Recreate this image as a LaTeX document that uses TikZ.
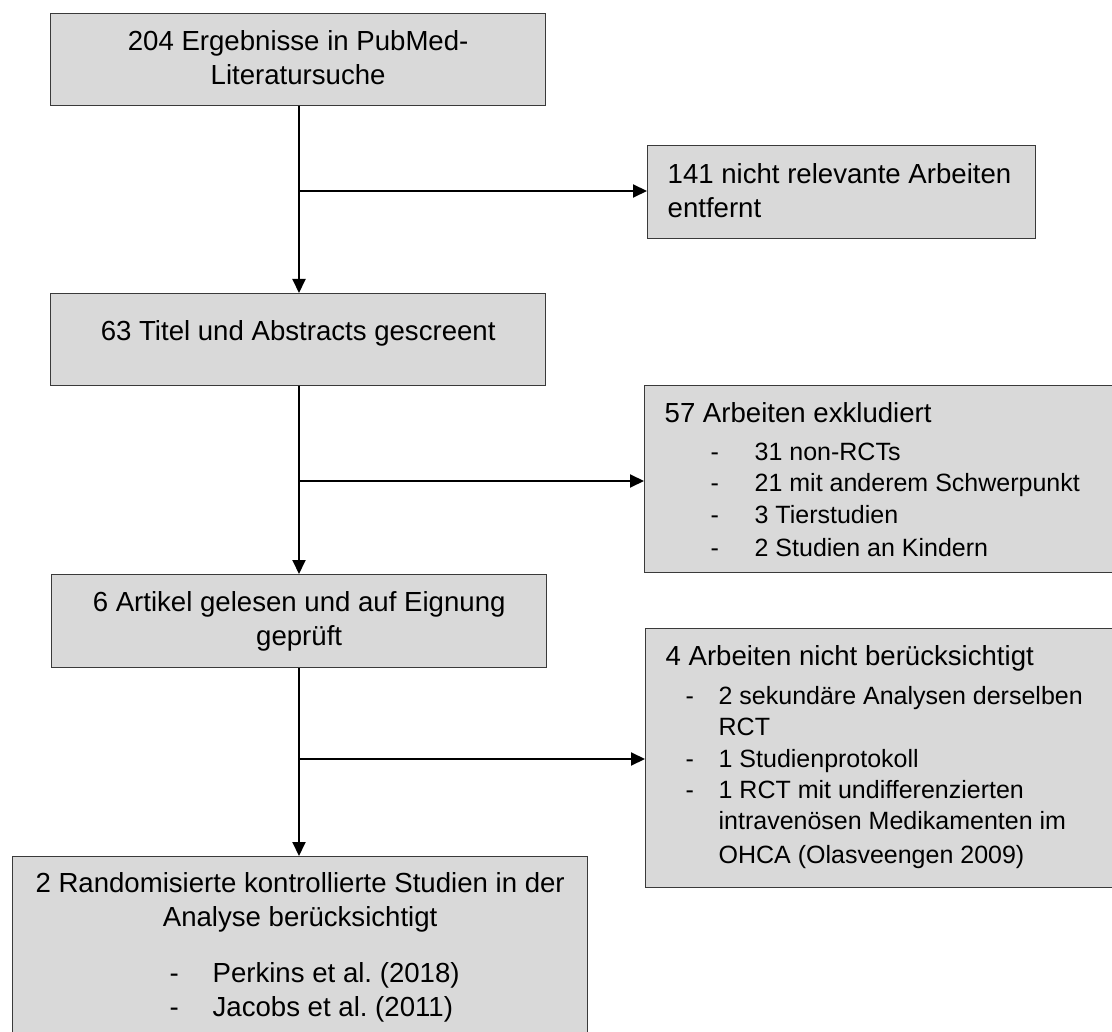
\documentclass[tikz,border=0pt]{standalone}
\usepackage{fontspec}
\setmainfont{Liberation Sans}
\usepackage{xcolor}
\usepackage{tikz}
\usetikzlibrary{arrows.meta,positioning}

\definecolor{boxfill}{HTML}{D9D9D9}
\definecolor{boxline}{HTML}{3A3A3A}
\newcommand{\flowmain}{\fontsize{27.6}{33.5}\selectfont}
\newcommand{\flowlist}{\fontsize{25}{31.3}\selectfont}
\newcommand{\dashitem}[3]{\hspace*{#1}\makebox[#2][l]{-}#3}

\begin{document}
\begin{tikzpicture}[
x=1pt, y=-1pt,
font=\flowmain,
box/.style={draw=boxline, fill=boxfill, line width=1.3pt, inner sep=0pt, anchor=north west},
mid/.style={box, align=flush center},
side/.style={box, align=flush left, inner xsep=20pt},
arrow/.style={-{Triangle[length=14pt,width=13pt]}, line width=2pt}
]
\useasboundingbox (0,0) rectangle (1112,1032);
\node[mid, text width=495pt, text height=37pt, text depth=55pt] (search) at (50,13) {204 Ergebnisse in PubMed-\\ Literatursuche};
\node[side, text width=348pt, text height=38pt, text depth=55pt] (removed) at (647,145) {\mbox{141 nicht relevante Arbeiten}\\ entfernt};
\node[mid, text width=495pt, text height=47pt, text depth=45pt] (screen) at (50,293) {63 Titel und Abstracts gescreent};
\node[side, text width=436pt, text height=37pt, text depth=150pt] (excluded) at (644,385) {57 Arbeiten exkludiert\\[6.7pt]
\flowlist\dashitem{46pt}{44pt}{31 non-RCTs}\\
\dashitem{46pt}{44pt}{21 mit anderem Schwerpunkt}\\
\dashitem{46pt}{44pt}{3 Tierstudien}\\
\dashitem{46pt}{44pt}{2 Studien an Kindern}};
\node[mid, text width=495pt, text height=37pt, text depth=56pt] (eligible) at (51,574) {6 Artikel gelesen und auf Eignung\\ geprüft};
\node[side, text width=435pt, text height=37pt, text depth=222pt] (notincl) at (645,628) {4 Arbeiten nicht berücksichtigt\\[7.7pt]
\flowlist\dashitem{20pt}{33pt}{2 sekundäre Analysen derselben}\\
\hspace*{53pt}RCT\\
\dashitem{20pt}{33pt}{1 Studienprotokoll}\\
\dashitem{20pt}{33pt}{1 RCT mit undifferenzierten}\\
\hspace*{53pt}intravenösen Medikamenten im\\
\hspace*{53pt}OHCA (Olasveengen 2009)};
\node[mid, text width=575pt, text height=36pt, text depth=150pt] (included) at (12,856) {2 Randomisierte kontrollierte Studien in der\\ Analyse berücksichtigt\\[23pt]
\makebox[\linewidth][l]{\dashitem{157pt}{43pt}{Perkins et al.\ (2018)}}\\
\makebox[\linewidth][l]{\dashitem{157pt}{43pt}{Jacobs et al.\ (2011)}}};
\coordinate (j1) at (299,191);
\coordinate (j2) at (299,481);
\coordinate (j3) at (299,759);
\draw[arrow] (search.south -| j1) -- (screen.north -| j1);
\draw[arrow] (j1) -- (j1 -| removed.west);
\draw[arrow] (screen.south -| j2) -- (eligible.north -| j2);
\draw[arrow] (j2) -- (j2 -| excluded.west);
\draw[arrow] (eligible.south -| j3) -- (included.north -| j3);
\draw[arrow] (j3) -- (j3 -| notincl.west);
\end{tikzpicture}
\end{document}
